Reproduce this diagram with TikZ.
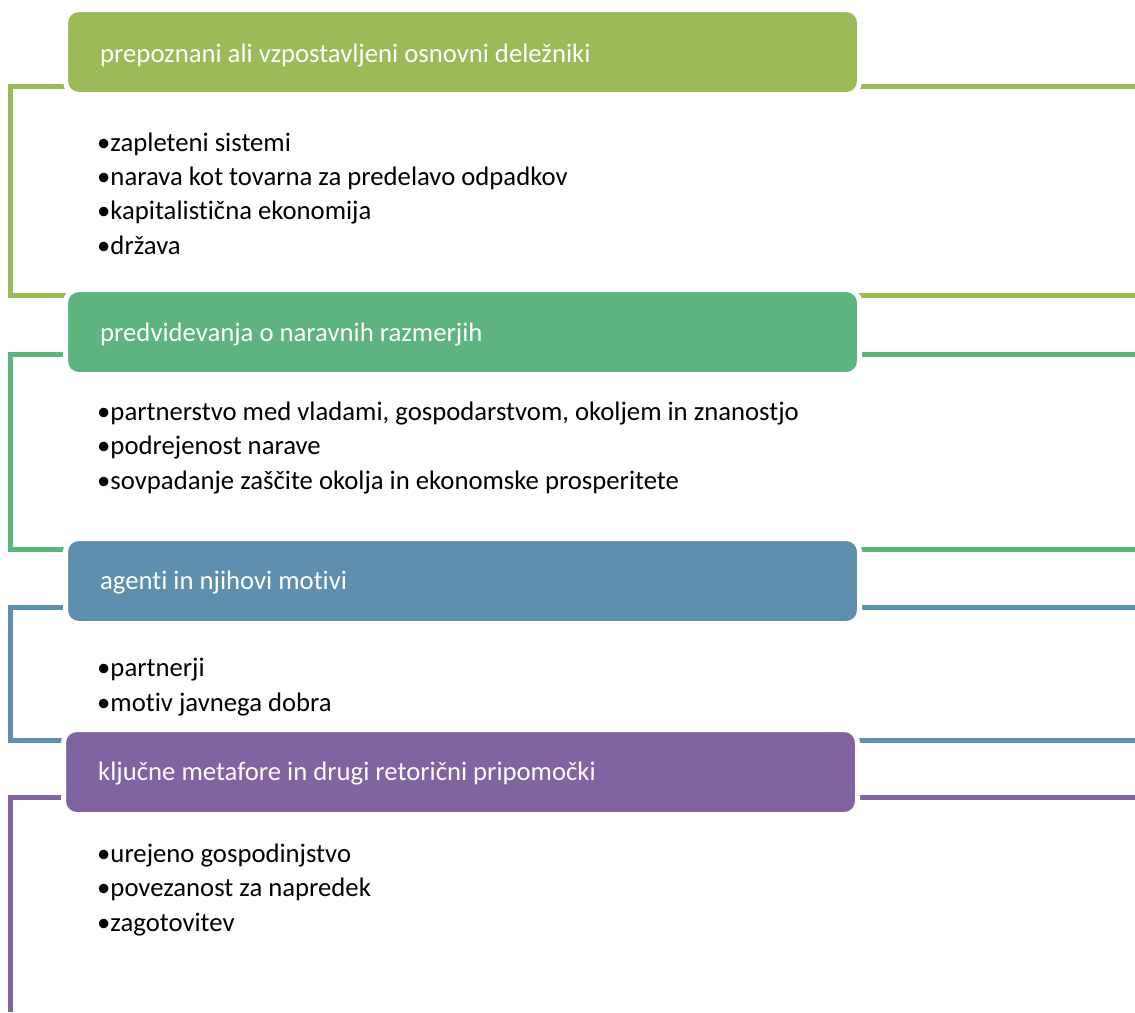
\documentclass[tikz,border=0pt]{standalone}
\usepackage{fontspec}
\setmainfont{Carlito}[Ligatures={NoCommon}]
\usetikzlibrary{positioning}
\definecolor{olive_green}{HTML}{9BBB59}
\definecolor{sea_green}{HTML}{5DB47F}
\definecolor{steel_blue}{HTML}{5F8FAF}
\definecolor{soft_purple}{HTML}{8064A2}

\begin{document}
\begin{tikzpicture}
[
    x=1pt, y=-1pt,
    head_node/.style={rectangle, rounded corners=13pt, draw=white, line width=5pt, fill=#1, minimum width=794pt, minimum height=85pt},
    head_text/.style={anchor=base west, inner sep=0pt, text=white, font=\fontsize{26.7}{34}\selectfont},
    item_node/.style={anchor=base west, inner sep=0pt, align=left, font=\fontsize{26.7}{34.3}\selectfont},
    frame_line/.style={draw=#1, line width=5pt},
]
    \useasboundingbox (0,0) rectangle (1135,1012) ;
    % frames behind the headers
    \draw[frame_line=olive_green] (1135,86) -| (10,295) -- (1135,295) ;
    \draw[frame_line=sea_green] (1135,354) -| (10,549) -- (1135,549) ;
    \draw[frame_line=steel_blue] (1135,607) -| (10,740) -- (1135,740) ;
    \draw[frame_line=soft_purple] (1135,797) -| (10,1012) ;
    % headers
    \node[head_node=olive_green] (head1) at (462.5,52) {} ;
    \node[head_node=sea_green] (head2) at (462.5,332) {} ;
    \node[head_node=steel_blue] (head3) at (462.5,581) {} ;
    \node[head_node=soft_purple] (head4) at (460.5,772) {} ;
    \node[head_text] (title1) at (100,62) {prepoznani ali vzpostavljeni osnovni deležniki} ;
    \node[head_text] (title2) at (100,341) {predvidevanja o naravnih razmerjih} ;
    \node[head_text] (title3) at (100,589) {agenti in njihovi motivi} ;
    \node[head_text] (title4) at (98,780) {ključne metafore in drugi retorični pripomočki} ;
    % bullet lists (base = last line)
    \node[item_node] (items1) at (97,254) {•zapleteni sistemi\\•narava kot tovarna za predelavo odpadkov\\•kapitalistična ekonomija\\•država} ;
    \node[item_node] (items2) at (97,489) {•partnerstvo med vladami, gospodarstvom, okoljem in znanostjo\\•podrejenost narave\\•sovpadanje zaščite okolja in ekonomske prosperitete} ;
    \node[item_node] (items3) at (97,711) {•partnerji\\•motiv javnega dobra} ;
    \node[item_node] (items4) at (97,931) {•urejeno gospodinjstvo\\•povezanost za napredek\\•zagotovitev} ;
\end{tikzpicture}
\end{document}
